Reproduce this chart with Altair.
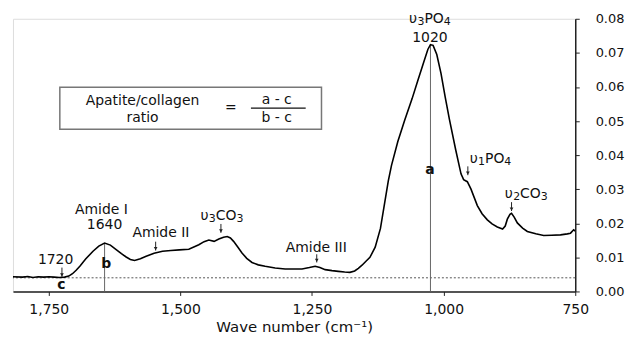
import altair as alt
import pandas as pd

# ---- spectrum data ----
wavenumber = [1818, 1800, 1790, 1780, 1770, 1760, 1750, 1740, 1730, 1720, 1712, 1705,
              1698, 1691, 1680, 1666, 1655, 1644, 1633, 1622, 1612, 1603, 1595, 1587,
              1576, 1565, 1550, 1534, 1518, 1502, 1484, 1465, 1455, 1446, 1436, 1427,
              1418, 1411, 1405, 1399, 1390, 1383, 1374, 1364, 1352, 1339, 1320, 1301,
              1285, 1269, 1255, 1244, 1235, 1225, 1212, 1200, 1188, 1178, 1169, 1162,
              1155, 1148, 1140, 1130, 1120, 1112, 1105, 1099, 1087, 1074, 1060, 1049,
              1038, 1030, 1025, 1020, 1013, 1005, 997, 989, 977, 967, 962, 955, 948,
              936, 927, 917, 908, 898, 888, 883, 879, 874, 871, 866, 860, 850, 841,
              825, 810, 795, 778, 765, 759, 753, 750]
absorbance = [0.0043, 0.0042, 0.0044, 0.0041, 0.0043, 0.0042, 0.0043, 0.0042, 0.0041,
              0.0042, 0.0045, 0.0052, 0.0062, 0.0074, 0.0095, 0.0118, 0.0133, 0.0142,
              0.0136, 0.0123, 0.0111, 0.0101, 0.0094, 0.0091, 0.0096, 0.0103, 0.0112,
              0.0118, 0.0120, 0.0122, 0.0124, 0.0137, 0.0146, 0.0151, 0.0147, 0.0154,
              0.0159, 0.0161, 0.0157, 0.0147, 0.0128, 0.0113, 0.0097, 0.0085, 0.0078,
              0.0074, 0.0069, 0.0066, 0.0066, 0.0066, 0.0070, 0.0074, 0.0070, 0.0064,
              0.0061, 0.0059, 0.0057, 0.0056, 0.0060, 0.0068, 0.0077, 0.0088, 0.0100,
              0.0130, 0.0185, 0.0260, 0.0325, 0.0370, 0.0440, 0.0502, 0.0565, 0.0619,
              0.0672, 0.0710, 0.0724, 0.0722, 0.0695, 0.0640, 0.0570, 0.0505, 0.0415,
              0.0345, 0.0328, 0.0322, 0.0300, 0.0252, 0.0228, 0.0210, 0.0198, 0.0189,
              0.0183, 0.0192, 0.0212, 0.0226, 0.0229, 0.0218, 0.0201, 0.0186, 0.0176,
              0.0169, 0.0164, 0.0165, 0.0166, 0.0169, 0.0171, 0.0181, 0.0177]

baseline_level = 0.004
x_ticks = [1750, 1500, 1250, 1000, 750]
y_ticks = [0.00, 0.01, 0.02, 0.03, 0.04, 0.05, 0.06, 0.07, 0.08]

# height markers a and b
marker_x = [1025, 1644]
marker_top = [0.0724, 0.0142]

# plain annotation labels
label_text = ["1720", "Amide I", "1640", "Amide II", "Amide III", "1020"]
label_x = [1737, 1650, 1644, 1537, 1242, 1026]
label_y = [0.0091, 0.0239, 0.0194, 0.0171, 0.0127, 0.0744]

# chemical labels: (symbol, subscript, group, subscript)
chem_parts = [["υ", "3", "CO", "3"], ["υ", "3", "PO", "4"],
              ["υ", "1", "PO", "4"], ["υ", "2", "CO", "3"]]
chem_x = [1421, 1026, 911, 843]
chem_y = [0.0222, 0.0800, 0.0388, 0.0286]

# arrows (x, top, bottom)
arrow_x = [1725, 1547, 1423, 1241, 954, 871]
arrow_top = [0.0070, 0.0146, 0.0198, 0.0109, 0.0367, 0.0262]
arrow_bottom = [0.0043, 0.0120, 0.0172, 0.0085, 0.0341, 0.0236]

bold_text = ["a", "b", "c"]
bold_x = [1026, 1641, 1726]
bold_y = [0.0356, 0.0080, 0.0018]

# formula box
box_x = [1729, 1232]
box_y = [0.0476, 0.0599]
box_text = ["Apatite/collagen", "ratio", "=", "a - c", "b - c"]
box_text_x = [1572, 1572, 1404, 1317, 1317]
box_text_y = [0.0560, 0.0510, 0.0537, 0.0562, 0.0510]
frac_x = [1366, 1262]
frac_y = 0.0538

FONT = "DejaVu Sans"
INK = "#111"
MAIN_SIZE = 14
SUB_SIZE = 11
# approximate DejaVu Sans advance widths (em)
EM = {"υ": 0.60, "P": 0.603, "O": 0.787, "C": 0.698}

xs = alt.Scale(domain=[750, 1818], reverse=True, nice=False, zero=False)
ys = alt.Scale(domain=[0, 0.08], nice=False)

x_axis = alt.Axis(values=x_ticks, format=",.0f", title="Wave number (cm⁻¹)",
                  tickSize=4, labelPadding=7, titlePadding=3, grid=False,
                  labelFontSize=14, titleFontSize=15, titleFontWeight="normal",
                  labelFont=FONT, titleFont=FONT, domainColor="#222", tickColor="#222",
                  labelColor=INK, titleColor=INK, domainWidth=1.5, labelFlush=False)
y_axis = alt.Axis(values=y_ticks, format=".2f", title=None, orient="right",
                  tickSize=4, labelPadding=16, grid=False, labelFontSize=13,
                  labelFont=FONT, domainColor="#222", tickColor="#222",
                  labelColor=INK, domainWidth=1.5, labelAlign="left", labelFlush=False)


def X(field):
    return alt.X(field, scale=xs, axis=x_axis)


def Y(field):
    return alt.Y(field, scale=ys, axis=y_axis)


spec = pd.DataFrame({"wn": wavenumber, "abs": absorbance})
line = alt.Chart(spec).mark_line(color="black", strokeWidth=1.6, clip=True).encode(
    x=X("wn:Q"), y=Y("abs:Q"),
)

base_df = pd.DataFrame({"y": [baseline_level]})
baseline = alt.Chart(base_df).mark_rule(color="#555", strokeDash=[2, 2], strokeWidth=1).encode(
    y=Y("y:Q"),
)

mk = pd.DataFrame({"x": marker_x, "y0": [0, 0], "y1": marker_top})
markers = alt.Chart(mk).mark_rule(color="#666", strokeWidth=1).encode(
    x=X("x:Q"), y=Y("y0:Q"), y2="y1:Q"
)

lab = pd.DataFrame({"t": label_text, "x": label_x, "y": label_y})
labels = alt.Chart(lab).mark_text(font=FONT, fontSize=MAIN_SIZE, color=INK).encode(
    x=X("x:Q"), y=Y("y:Q"), text="t:N"
)


def piece_width(txt, sub):
    if sub:
        return 0.636 * SUB_SIZE * len(txt)
    return sum(EM.get(ch, 0.62) for ch in txt) * MAIN_SIZE


chem_layers = []
for parts, cx, cy in zip(chem_parts, chem_x, chem_y):
    flags = [False, True, False, True]
    widths = [piece_width(p, s) for p, s in zip(parts, flags)]
    offset = -sum(widths) / 2
    for p, s, w in zip(parts, flags, widths):
        df = pd.DataFrame({"t": [p], "x": [cx], "y": [cy]})
        chem_layers.append(
            alt.Chart(df).mark_text(font=FONT, fontSize=SUB_SIZE if s else MAIN_SIZE,
                                    color=INK, align="left", dx=offset,
                                    dy=3 if s else 0).encode(
                x=X("x:Q"), y=Y("y:Q"), text="t:N")
        )
        offset += w

ar = pd.DataFrame({"x": arrow_x, "y0": arrow_top, "y1": arrow_bottom})
arrow_shaft = alt.Chart(ar).mark_rule(color="#222", strokeWidth=1).encode(
    x=X("x:Q"), y=Y("y0:Q"), y2="y1:Q"
)
arrow_head = alt.Chart(ar).mark_point(shape="triangle-down", size=14, filled=True,
                                      color="#222", opacity=1, yOffset=-2).encode(
    x=X("x:Q"), y=Y("y1:Q")
)

bl = pd.DataFrame({"t": bold_text, "x": bold_x, "y": bold_y})
bolds = alt.Chart(bl).mark_text(font=FONT, fontSize=14, fontWeight="bold", color=INK).encode(
    x=X("x:Q"), y=Y("y:Q"), text="t:N"
)

bx = pd.DataFrame({"x": [box_x[0]], "x2": [box_x[1]], "y": [box_y[0]], "y2": [box_y[1]]})
box = alt.Chart(bx).mark_rect(fill="white", stroke="#777", strokeWidth=1.5).encode(
    x=X("x:Q"), x2="x2:Q", y=Y("y:Q"), y2="y2:Q"
)

bt = pd.DataFrame({"t": box_text, "x": box_text_x, "y": box_text_y})
box_labels = alt.Chart(bt).mark_text(font=FONT, fontSize=14, color=INK).encode(
    x=X("x:Q"), y=Y("y:Q"), text="t:N"
)

fr = pd.DataFrame({"x": [frac_x[0]], "x2": [frac_x[1]], "y": [frac_y]})
frac = alt.Chart(fr).mark_rule(color=INK, strokeWidth=1.2).encode(
    x=X("x:Q"), x2="x2:Q", y=Y("y:Q")
)

chart = alt.layer(baseline, markers, line, arrow_shaft, arrow_head, labels, *chem_layers,
                  bolds, box, box_labels, frac).properties(
    width=565, height=274,
    autosize=alt.AutoSizeParams(type="none"),
    padding={"left": 5, "top": 10, "right": 51, "bottom": 54},
).configure_view(stroke=None).configure(background="white")

chart.save("out.html", embed_options={"renderer": "svg", "actions": False})
